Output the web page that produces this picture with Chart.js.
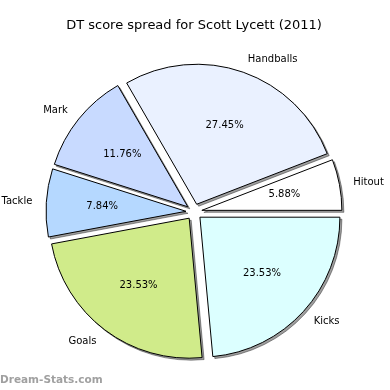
<!DOCTYPE html>
<html>
<head>
<meta charset="utf-8">
<script src="https://cdn.jsdelivr.net/npm/chart.js@4"></script>
<style>
  html, body { margin: 0; padding: 0; background: #fff; }
</style>
</head>
<body>
<canvas id="pieChart" width="390" height="390"></canvas>
<script>
// data, in the order matplotlib drew it (counter-clockwise from east)
const categories = ["Hitout", "Handballs", "Mark", "Tackle", "Goals", "Kicks"];
const scores = [3, 14, 6, 4, 12, 12];
const sliceColors = ["#ffffff", "#eaf1ff", "#c8daff", "#b5d8ff", "#d0eb8a", "#dcffff"];

// chart.js goes clockwise, so flip the order
const labels = categories.slice().reverse();
const values = scores.slice().reverse();
const colors = sliceColors.slice().reverse();
const total = values.reduce((a, b) => a + b, 0);

const explode = 8;

// exploded pie with a drop shadow + matplotlib style labels
const explodePlugin = {
  id: "explodePie",
  beforeDatasetDraw(chart, args) {
    const ctx = chart.ctx;
    const arcs = args.meta.data;

    // shadows first
    arcs.forEach((arc) => {
      const mid = (arc.startAngle + arc.endAngle) / 2;
      ctx.save();
      ctx.translate(Math.cos(mid) * explode - 2000, Math.sin(mid) * explode);
      ctx.shadowColor = "rgba(0,0,0,0.38)";
      ctx.shadowOffsetX = 2002;
      ctx.shadowOffsetY = 2;
      ctx.shadowBlur = 0;
      arc.draw(ctx);
      ctx.restore();
    });

    arcs.forEach((arc) => {
      const mid = (arc.startAngle + arc.endAngle) / 2;
      ctx.save();
      ctx.translate(Math.cos(mid) * explode, Math.sin(mid) * explode);
      arc.draw(ctx);
      ctx.restore();
    });

    // labels
    ctx.save();
    ctx.font = "10px 'DejaVu Sans'";
    ctx.fillStyle = "#000";
    ctx.textBaseline = "middle";
    arcs.forEach((arc, i) => {
      const mid = (arc.startAngle + arc.endAngle) / 2;
      const cx = arc.x + Math.cos(mid) * explode;
      const cy = arc.y + Math.sin(mid) * explode;
      const r = arc.outerRadius;
      ctx.textAlign = Math.cos(mid) > 0 ? "left" : "right";
      ctx.fillText(labels[i], cx + Math.cos(mid) * r * 1.1, cy + Math.sin(mid) * r * 1.1);
      ctx.textAlign = "center";
      const pct = ((values[i] / total) * 100).toFixed(2) + "%";
      ctx.fillText(pct, cx + Math.cos(mid) * r * 0.6, cy + Math.sin(mid) * r * 0.6);
    });
    ctx.restore();
    return false;
  },
  afterDraw(chart) {
    const ctx = chart.ctx;
    ctx.save();
    ctx.font = "bold 10.5px 'DejaVu Sans'";
    ctx.fillStyle = "#a0a0a0";
    ctx.textAlign = "left";
    ctx.textBaseline = "middle";
    ctx.fillText("Dream-Stats.com", 0, 380);
    ctx.restore();
  },
};

const ctx = document.getElementById("pieChart");
new Chart(ctx, {
  type: "pie",
  data: {
    labels: labels,
    datasets: [
      {
        data: values,
        backgroundColor: colors,
        borderColor: "#000",
        borderWidth: 1,
        borderJoinStyle: "miter",
      },
    ],
  },
  plugins: [explodePlugin],
  options: {
    responsive: false,
    animation: false,
    events: [],
    rotation: 90,
    radius: 140,
    layout: {
      padding: { left: 0, right: 2, top: 0, bottom: 0 },
    },
    plugins: {
      legend: {
        display: false,
      },
      tooltip: {
        enabled: false,
      },
      title: {
        display: true,
        text: "DT score spread for Scott Lycett (2011)",
        color: "#000",
        font: {
          family: "'DejaVu Sans'",
          size: 13,
          weight: "normal",
        },
        padding: { top: 18, bottom: 0 },
      },
    },
  },
});
</script>
</body>
</html>
